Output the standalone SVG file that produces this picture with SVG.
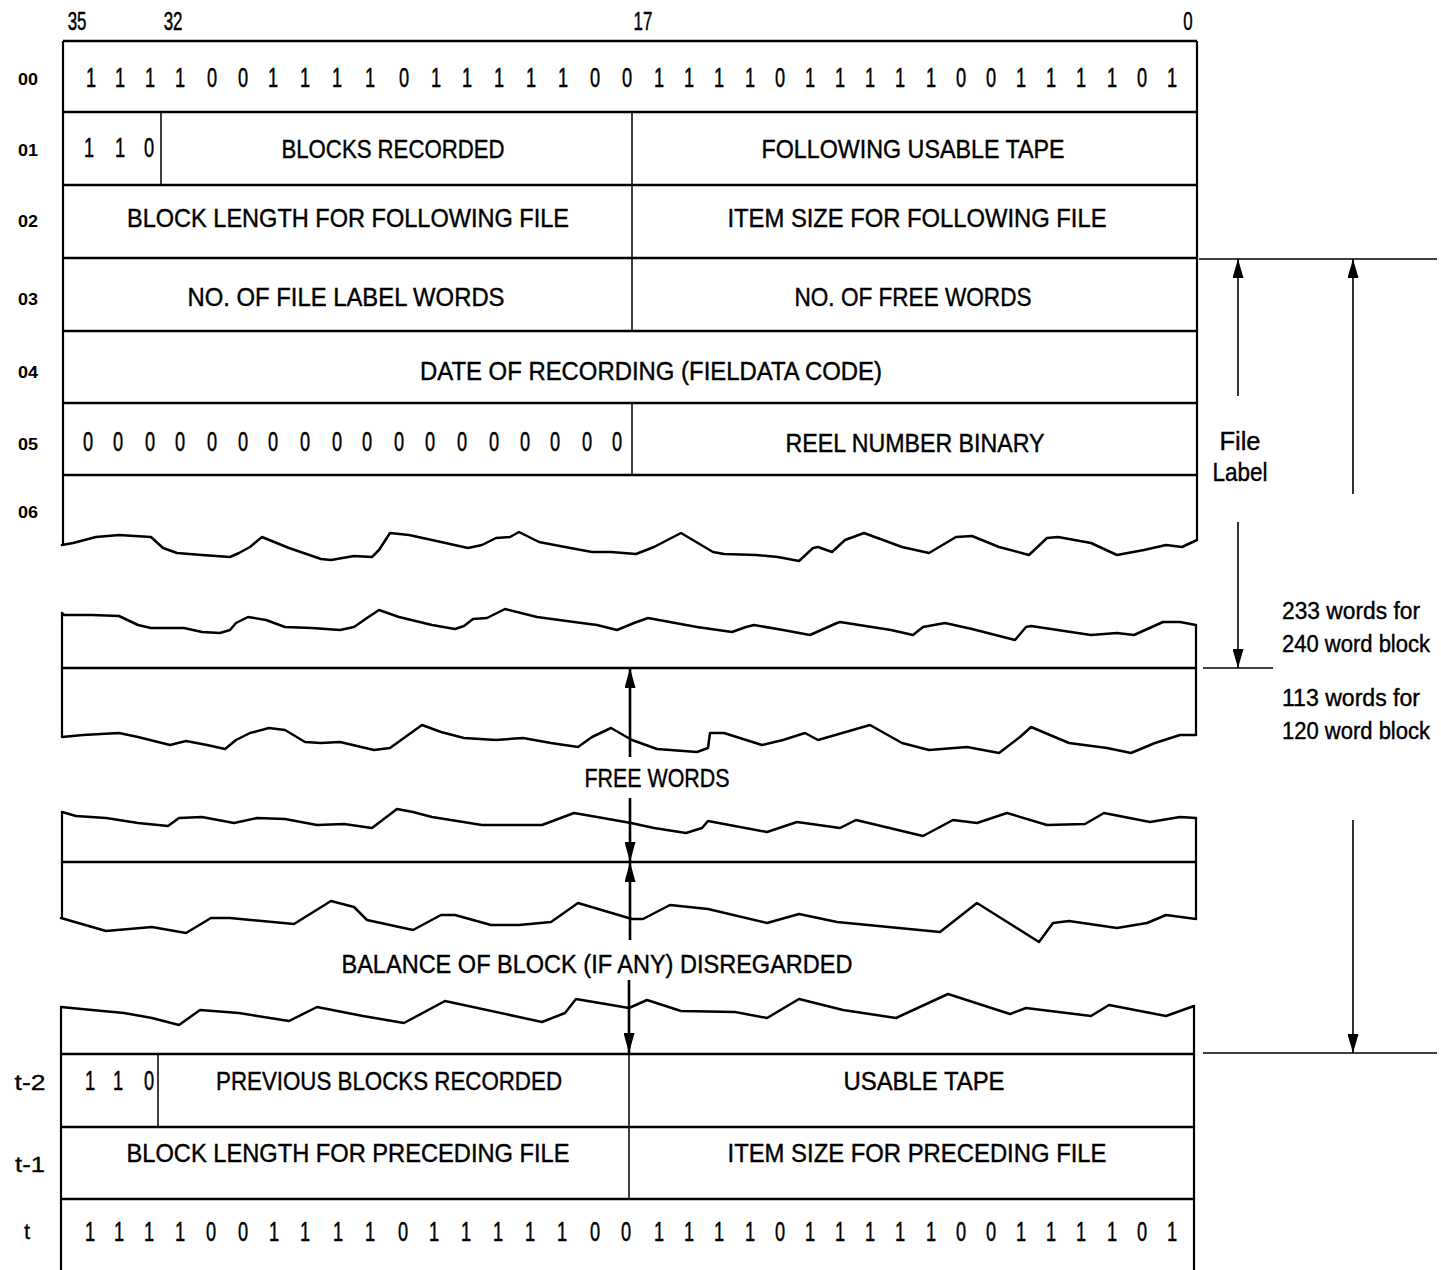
<svg xmlns="http://www.w3.org/2000/svg" width="1441" height="1270" viewBox="0 0 1441 1270">
<style>
.ln{stroke:#000;stroke-width:2.6;fill:none}
.bd{stroke:#000;stroke-width:2.2;fill:none}
.dv{stroke:#000;stroke-width:1.5;fill:none}
.wv{fill:none;stroke:#000;stroke-width:2.5;stroke-linejoin:round;stroke-linecap:round}
.dim{stroke:#000;stroke-width:1.6;fill:none}
.ar{stroke:#000;stroke-width:2.6;fill:none}
.t{font-family:"Liberation Sans",Arial,sans-serif;font-size:25px;fill:#000;stroke:#000;stroke-width:0.4}
.c{text-anchor:middle}
.bits{font-family:"Liberation Sans",Arial,sans-serif;font-size:28px;fill:#000;stroke:#000;stroke-width:0.5;text-anchor:middle}
.col{font-family:"Liberation Sans",Arial,sans-serif;font-size:26px;fill:#000;stroke:#000;stroke-width:0.5;text-anchor:middle}
.rl{font-family:"Liberation Sans",Arial,sans-serif;font-size:17px;font-weight:bold;fill:#000;text-anchor:middle}
.tl{font-family:"Liberation Sans",Arial,sans-serif;font-size:22px;fill:#000;stroke:#000;stroke-width:0.3;text-anchor:middle}
.nt{font-family:"Liberation Sans",Arial,sans-serif;font-size:23px;fill:#000;stroke:#000;stroke-width:0.4}
</style>
<defs>
<marker id="ah" markerUnits="userSpaceOnUse" markerWidth="20" markerHeight="11" viewBox="0 0 20 11" refX="20" refY="5.5" orient="auto-start-reverse"><path d="M0,0 L20,5.5 L0,11 Z" fill="#000"/></marker>
<marker id="dh" markerUnits="userSpaceOnUse" markerWidth="19" markerHeight="11" viewBox="0 0 19 11" refX="19" refY="5.5" orient="auto-start-reverse"><path d="M0,0 L19,5.5 L0,11 Z" fill="#000"/></marker>
</defs>
<rect width="1441" height="1270" fill="#fff"/>

<g id="column-numbers" transform="scale(0.65 1)">
<text class="col" x="118.5" y="30">35</text>
<text class="col" x="266.2" y="30">32</text>
<text class="col" x="989.2" y="30">17</text>
<text class="col" x="1827.7" y="30">0</text>
</g>

<g id="frame-top">
<path class="ln" d="M63,41 H1197"/>
<path class="bd" d="M63,41 V545"/>
<path class="bd" d="M1197,41 V540"/>
<path class="ln" d="M63,112 H1197 M63,185 H1197 M63,258 H1197 M63,331 H1197 M63,403 H1197 M63,475 H1197"/>
</g>

<g id="row-00">
<text class="rl" x="28" y="85" textLength="20" lengthAdjust="spacingAndGlyphs">00</text>
<text class="bits" transform="scale(0.65 1)" y="87" x="140 184.6 230.8 276.9 326.2 373.8 420 469.2 518.5 569.2 621.5 670.8 718.5 767.7 816.9 866.2 915.4 964.6 1013.8 1060 1106.2 1153.8 1200 1246.2 1292.3 1338.5 1384.6 1432.3 1478.5 1524.6 1570.8 1616.9 1663.1 1710.8 1756.9 1803.1">111100111101111100111101111100111101</text>
</g>

<g id="row-01">
<text class="rl" x="28" y="156" textLength="20" lengthAdjust="spacingAndGlyphs">01</text>
<path class="dv" d="M161,112 V185 M632,112 V185"/>
<text class="bits" transform="scale(0.65 1)" y="157" x="136.9 184.6 229.2">110</text>
<text class="t c" x="393" y="158" textLength="223" lengthAdjust="spacingAndGlyphs">BLOCKS RECORDED</text>
<text class="t c" x="913" y="158" textLength="303" lengthAdjust="spacingAndGlyphs">FOLLOWING USABLE TAPE</text>
</g>

<g id="row-02">
<text class="rl" x="28" y="227" textLength="20" lengthAdjust="spacingAndGlyphs">02</text>
<path class="dv" d="M632,185 V258"/>
<text class="t c" x="348" y="227" textLength="442" lengthAdjust="spacingAndGlyphs">BLOCK LENGTH FOR FOLLOWING FILE</text>
<text class="t c" x="917" y="227" textLength="379" lengthAdjust="spacingAndGlyphs">ITEM SIZE FOR FOLLOWING FILE</text>
</g>

<g id="row-03">
<text class="rl" x="28" y="305" textLength="20" lengthAdjust="spacingAndGlyphs">03</text>
<path class="dv" d="M632,258 V331"/>
<text class="t c" x="346" y="306" textLength="317" lengthAdjust="spacingAndGlyphs">NO. OF FILE LABEL WORDS</text>
<text class="t c" x="913" y="306" textLength="237" lengthAdjust="spacingAndGlyphs">NO. OF FREE WORDS</text>
</g>

<g id="row-04">
<text class="rl" x="28" y="378" textLength="20" lengthAdjust="spacingAndGlyphs">04</text>
<text class="t c" x="651" y="380" textLength="462" lengthAdjust="spacingAndGlyphs">DATE OF RECORDING (FIELDATA CODE)</text>
</g>

<g id="row-05">
<text class="rl" x="28" y="450" textLength="20" lengthAdjust="spacingAndGlyphs">05</text>
<path class="dv" d="M632,403 V475"/>
<text class="bits" transform="scale(0.65 1)" y="451" x="135.4 181.5 230.8 276.9 326.2 373.8 420 469.2 518.5 564.6 613.8 661.5 710.8 760 807.7 853.8 903.1 949.2">000000000000000000</text>
<text class="t c" x="915" y="452" textLength="259" lengthAdjust="spacingAndGlyphs">REEL NUMBER BINARY</text>
</g>

<g id="row-06">
<text class="rl" x="28" y="518" textLength="20" lengthAdjust="spacingAndGlyphs">06</text>
<polyline class="wv" points="62,545 73,543 96,537 119,535 151,537 163,548 177,553 202,555 230,557 239,553 250,547 262,537 289,548 321,559 331,560 354,556 372,557 379,550 390,533 409,535 441,542 468,548 482,545 496,538 510,537 519,532 539,542 565,547 592,552 611,552 636,554 654,547 681,533 713,552 724,554 756,555 778,557 799,561 813,548 818,547 832,552 845,540 864,533 902,547 929,553 956,537 972,536 999,547 1029,555 1047,538 1058,537 1091,543 1117,555 1144,550 1166,545 1182,547 1197,540"/>
</g>

<g id="block-233">
<polyline class="wv" points="62,613 64,615 92,615 119,616 138,625 151,628 184,628 202,632 220,633 230,630 236,623 248,617 266,620 285,627 312,628 340,630 354,627 367,618 379,610 399,617 432,625 455,629 464,626 473,619 487,618 505,609 537,617 574,622 597,625 617,630 634,623 648,618 697,627 732,632 746,627 754,625 783,630 810,635 837,623 840,622 891,630 913,635 923,627 945,623 972,629 1015,640 1026,627 1031,626 1091,635 1117,633 1134,635 1163,622 1180,622 1196,625"/>
<path class="bd" d="M62,613 V737 M1196,625 V735"/>
<path class="ln" d="M62,668 H1197"/>
<polyline class="wv" points="62,737 83,735 119,733 138,737 170,745 186,741 207,745 225,749 236,740 250,733 269,728 285,730 305,742 321,743 340,742 374,750 390,748 422,725 441,732 464,738 496,740 523,738 551,743 578,747 592,737 611,728 632,740 657,749 697,752 708,748 710,733 724,733 762,745 783,740 805,733 818,740 870,725 902,743 929,750 967,747 999,753 1020,737 1031,727 1069,743 1107,748 1131,753 1155,743 1180,735 1196,735"/>
</g>

<g id="block-113">
<polyline class="wv" points="62,812 76,816 106,818 138,823 168,826 179,818 202,817 234,823 257,818 285,819 317,825 344,824 372,828 397,809 413,812 432,817 482,825 542,825 574,813 597,817 631,823 654,828 686,833 702,828 708,821 767,832 797,822 840,828 856,820 923,836 953,820 977,823 1007,813 1047,825 1085,824 1104,813 1150,822 1180,817 1196,818"/>
<path class="bd" d="M62,812 V918 M1196,818 V919"/>
<path class="ln" d="M62,862 H1197"/>
<polyline class="wv" points="61,918 106,931 152,927 186,933 211,918 230,918 294,924 331,901 354,907 367,920 413,930 441,915 455,915 491,925 519,925 551,922 578,903 632,919 643,919 670,905 708,909 767,923 799,914 837,922 940,932 977,903 1004,920 1039,942 1053,923 1069,921 1117,928 1147,923 1166,915 1196,919"/>
</g>

<g id="block-end">
<polyline class="wv" points="61,1007 92,1010 124,1013 152,1018 179,1025 200,1010 239,1013 289,1021 317,1007 363,1016 404,1023 445,1001 542,1022 565,1013 576,999 629,1008 647,1000 681,1011 735,1012 767,1018 799,999 843,1010 896,1018 948,994 1010,1014 1026,1008 1091,1016 1109,1005 1166,1016 1194,1006"/>
<path class="bd" d="M61,1007 V1270 M1194,1006 V1270"/>
<path class="ln" d="M61,1054 H1194 M61,1127 H1194 M61,1199 H1194"/>
</g>

<g id="row-t-2">
<text class="tl" x="30" y="1090" textLength="31" lengthAdjust="spacingAndGlyphs">t-2</text>
<path class="dv" d="M158,1054 V1127 M629,1054 V1127"/>
<text class="bits" transform="scale(0.65 1)" y="1090" x="138.5 181.5 229.2">110</text>
<text class="t c" x="389" y="1090" textLength="346" lengthAdjust="spacingAndGlyphs">PREVIOUS BLOCKS RECORDED</text>
<text class="t c" x="924" y="1090" textLength="161" lengthAdjust="spacingAndGlyphs">USABLE TAPE</text>
</g>

<g id="row-t-1">
<text class="tl" x="30" y="1172" textLength="30" lengthAdjust="spacingAndGlyphs">t-1</text>
<path class="dv" d="M629,1127 V1199"/>
<text class="t c" x="348" y="1162" textLength="443" lengthAdjust="spacingAndGlyphs">BLOCK LENGTH FOR PRECEDING FILE</text>
<text class="t c" x="917" y="1162" textLength="379" lengthAdjust="spacingAndGlyphs">ITEM SIZE FOR PRECEDING FILE</text>
</g>

<g id="row-t">
<text class="tl" x="27" y="1239">t</text>
<text class="bits" transform="scale(0.65 1)" y="1241" x="138.5 183.1 229.2 276.9 324.6 373.8 421.5 469.2 520 569.2 620 667.7 716.9 766.2 815.4 864.6 915.4 963.1 1013.8 1060 1106.2 1153.8 1200 1246.2 1292.3 1338.5 1384.6 1432.3 1478.5 1524.6 1570.8 1616.9 1663.1 1710.8 1756.9 1803.1">111100111101111100111101111100111101</text>
</g>

<g id="labels-side">
<text class="t c" x="1240" y="450" textLength="41" lengthAdjust="spacingAndGlyphs">File</text>
<text class="t c" x="1240" y="481" textLength="55" lengthAdjust="spacingAndGlyphs">Label</text>
<text class="nt" x="1282" y="619" textLength="138" lengthAdjust="spacingAndGlyphs">233 words for</text>
<text class="nt" x="1282" y="652" textLength="148" lengthAdjust="spacingAndGlyphs">240 word block</text>
<text class="nt" x="1282" y="706" textLength="138" lengthAdjust="spacingAndGlyphs">113 words for</text>
<text class="nt" x="1282" y="739" textLength="148" lengthAdjust="spacingAndGlyphs">120 word block</text>
<text class="t c" x="657" y="787" textLength="145" lengthAdjust="spacingAndGlyphs">FREE WORDS</text>
<text class="t c" x="597" y="973" textLength="511" lengthAdjust="spacingAndGlyphs">BALANCE OF BLOCK (IF ANY) DISREGARDED</text>
</g>

<g id="connectors">
<path class="dim" d="M1199,259 H1437"/>
<path class="dim" d="M1203,668 H1273"/>
<path class="dim" d="M1203,1053 H1437"/>
<path class="dim" d="M1238,259 V396" marker-start="url(#dh)"/>
<path class="dim" d="M1238,522 V668" marker-end="url(#dh)"/>
<path class="dim" d="M1353,259 V494" marker-start="url(#dh)"/>
<path class="dim" d="M1353,820 V1053" marker-end="url(#dh)"/>
<path class="ar" d="M630,668 V757" marker-start="url(#ah)"/>
<path class="ar" d="M630,798 V862" marker-end="url(#ah)"/>
<path class="ar" d="M630,862 V940" marker-start="url(#ah)"/>
<path class="ar" d="M629,980 V1053" marker-end="url(#ah)"/>
</g>
</svg>
